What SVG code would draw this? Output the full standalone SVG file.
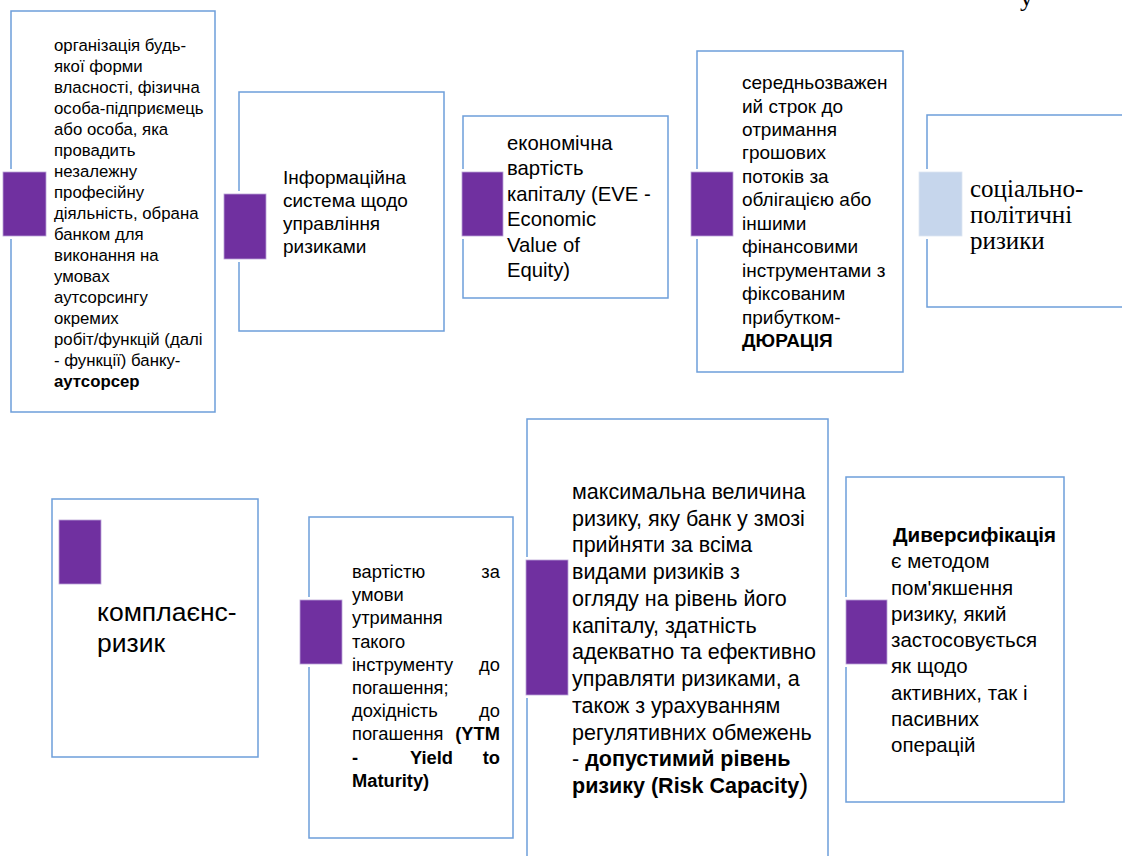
<svg xmlns="http://www.w3.org/2000/svg" width="1122" height="856" viewBox="0 0 1122 856">
<style>
.box{fill:#fff;stroke:#6d9eda;stroke-width:1.5}
.gap{fill:#fff;stroke:none}
.acc{fill:#7030a0;stroke:#b9a3d6;stroke-width:0.8}
.acc2{fill:#c6d6ec;stroke:#dde6f3;stroke-width:0.8}
text{font-family:"Liberation Sans",Arial,sans-serif;fill:#000}
.serif{font-family:"Liberation Serif","Times New Roman",serif}
.b{font-weight:bold}
</style>
<rect width="1122" height="856" fill="#fff"/>
<text class="serif" x="1020" y="6" font-size="26">у</text>
<g id="connectors"/>

<g id="node1">
<rect class="box" x="11" y="11" width="204" height="401"/>
<rect class="gap" x="1" y="169" width="47" height="70"/>
<rect class="acc" x="3" y="172" width="43" height="64"/>
<text font-size="16.8">
<tspan x="54" y="51">організація будь-</tspan>
<tspan x="54" y="72">якої форми</tspan>
<tspan x="54" y="93">власності, фізична</tspan>
<tspan x="54" y="114">особа-підприємець</tspan>
<tspan x="54" y="135">або особа, яка</tspan>
<tspan x="54" y="156">провадить</tspan>
<tspan x="54" y="177">незалежну</tspan>
<tspan x="54" y="198">професійну</tspan>
<tspan x="54" y="219">діяльність, обрана</tspan>
<tspan x="54" y="240">банком для</tspan>
<tspan x="54" y="261">виконання на</tspan>
<tspan x="54" y="282">умовах</tspan>
<tspan x="54" y="303">аутсорсингу</tspan>
<tspan x="54" y="324">окремих</tspan>
<tspan x="54" y="345">робіт/функцій (далі</tspan>
<tspan x="54" y="366">- функції) банку-</tspan>
<tspan x="54" y="387" class="b">аутсорсер</tspan>
</text>
</g>

<g id="node2">
<rect class="box" x="239" y="92" width="205" height="239"/>
<rect class="gap" x="222" y="191" width="46" height="71"/>
<rect class="acc" x="224" y="194" width="42" height="65"/>
<text font-size="19">
<tspan x="283" y="184">Інформаційна</tspan>
<tspan x="283" y="207">система щодо</tspan>
<tspan x="283" y="230">управління</tspan>
<tspan x="283" y="253">ризиками</tspan>
</text>
</g>

<g id="node3">
<rect class="box" x="463" y="116" width="205" height="182"/>
<rect class="gap" x="460" y="169" width="45" height="70"/>
<rect class="acc" x="462" y="172" width="41" height="64"/>
<text font-size="20.3">
<tspan x="507" y="150">економічна</tspan>
<tspan x="507" y="175.4">вартість</tspan>
<tspan x="507" y="200.8">капіталу (EVE -</tspan>
<tspan x="507" y="226.2">Economic</tspan>
<tspan x="507" y="251.6">Value of</tspan>
<tspan x="507" y="277">Equity)</tspan>
</text>
</g>

<g id="node4">
<rect class="box" x="697" y="51" width="206" height="321"/>
<rect class="gap" x="689" y="169" width="46" height="70"/>
<rect class="acc" x="691" y="172" width="42" height="64"/>
<text font-size="19">
<tspan x="742" y="89">середньозважен</tspan>
<tspan x="742" y="112.5">ий строк до</tspan>
<tspan x="742" y="136">отримання</tspan>
<tspan x="742" y="159.4">грошових</tspan>
<tspan x="742" y="182.8">потоків за</tspan>
<tspan x="742" y="206.3">облігацією або</tspan>
<tspan x="742" y="229.7">іншими</tspan>
<tspan x="742" y="253.2">фінансовими</tspan>
<tspan x="742" y="276.6">інструментами з</tspan>
<tspan x="742" y="300">фіксованим</tspan>
<tspan x="742" y="323.5">прибутком-</tspan>
<tspan x="742" y="347" class="b">ДЮРАЦІЯ</tspan>
</text>
</g>

<g id="node5">
<rect class="box" x="927" y="115" width="210" height="192"/>
<rect class="gap" x="917" y="169" width="47" height="70"/>
<rect class="acc2" x="919" y="172" width="43" height="64"/>
<text class="serif" font-size="25">
<tspan x="970" y="197">соціально-</tspan>
<tspan x="970" y="223">політичні</tspan>
<tspan x="970" y="249">ризики</tspan>
</text>
</g>

<g id="node6">
<rect class="box" x="52" y="499" width="206" height="258"/>
<rect class="acc" x="59" y="520" width="42" height="64"/>
<text font-size="26.5">
<tspan x="97" y="621">комплаєнс-</tspan>
<tspan x="97" y="652">ризик</tspan>
</text>
</g>

<g id="node7">
<rect class="box" x="309" y="517" width="204" height="321"/>
<rect class="gap" x="298" y="597" width="46" height="70"/>
<rect class="acc" x="300" y="600" width="42" height="64"/>
<text font-size="18.3">
<tspan x="352" y="578">вартістю</tspan><tspan x="505" y="578" text-anchor="end">за</tspan>
<tspan x="352" y="601.2">умови</tspan>
<tspan x="352" y="624.4">утримання</tspan>
<tspan x="352" y="647.6">такого</tspan>
<tspan x="352" y="670.8">інструменту</tspan><tspan x="505" y="670.8" text-anchor="end">до</tspan>
<tspan x="352" y="694">погашення;</tspan>
<tspan x="352" y="717.2">дохідність</tspan><tspan x="505" y="717.2" text-anchor="end">до</tspan>
<tspan x="352" y="740.4">погашення</tspan><tspan x="505" y="740.4" text-anchor="end" class="b">(YTM</tspan>
<tspan x="352" y="763.6" class="b">-</tspan><tspan x="410" y="763.6" class="b">Yield</tspan><tspan x="505" y="763.6" text-anchor="end" class="b">to</tspan>
<tspan x="352" y="786.8" class="b">Maturity)</tspan>
</text>
</g>

<g id="node8">
<rect class="box" x="527" y="419" width="301" height="460"/>
<rect class="gap" x="524" y="557" width="46" height="141"/>
<rect class="acc" x="526" y="560" width="42" height="135"/>
<text font-size="21.5">
<tspan x="572" y="499">максимальна величина</tspan>
<tspan x="572" y="525.7">ризику, яку банк у змозі</tspan>
<tspan x="572" y="552.4">прийняти за всіма</tspan>
<tspan x="572" y="579.2">видами ризиків з</tspan>
<tspan x="572" y="605.9">огляду на рівень його</tspan>
<tspan x="572" y="632.6">капіталу, здатність</tspan>
<tspan x="572" y="659.4">адекватно та ефективно</tspan>
<tspan x="572" y="686.1">управляти ризиками, а</tspan>
<tspan x="572" y="712.8">також з урахуванням</tspan>
<tspan x="572" y="739.5">регулятивних обмежень</tspan>
<tspan x="572" y="766.3">- <tspan class="b">допустимий рівень</tspan></tspan>
<tspan x="572" y="793" class="b">ризику (Risk Capacity</tspan><tspan font-size="27">)</tspan>
</text>
</g>

<g id="node9">
<rect class="box" x="846" y="477" width="218" height="325"/>
<rect class="gap" x="844" y="597" width="45" height="70"/>
<rect class="acc" x="846" y="600" width="41" height="64"/>
<text font-size="20.5">
<tspan x="893" y="542" class="b">Диверсифікація</tspan>
<tspan x="891" y="568.2">є методом</tspan>
<tspan x="891" y="594.5">пом'якшення</tspan>
<tspan x="891" y="620.7">ризику, який</tspan>
<tspan x="891" y="647">застосовується</tspan>
<tspan x="891" y="673.2">як щодо</tspan>
<tspan x="891" y="699.5">активних, так і</tspan>
<tspan x="891" y="725.7">пасивних</tspan>
<tspan x="891" y="752">операцій</tspan>
</text>
</g>
</svg>
